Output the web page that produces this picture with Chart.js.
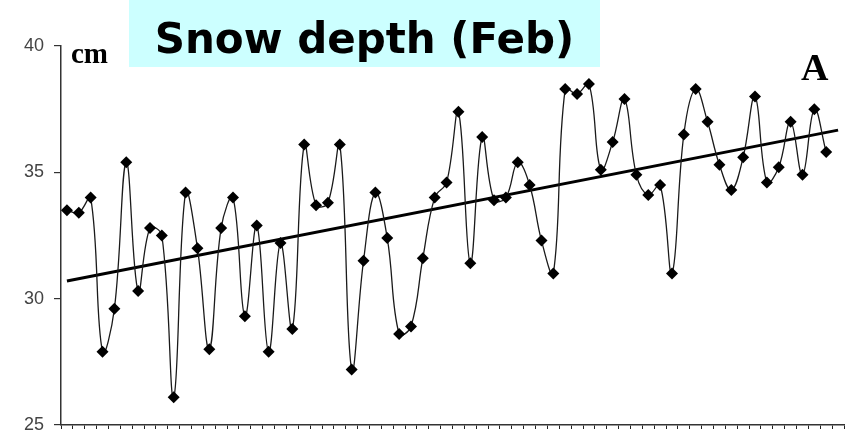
<!DOCTYPE html>
<html>
<head>
<meta charset="utf-8">
<script src="https://cdn.jsdelivr.net/npm/chart.js@4.4.0/dist/chart.umd.min.js"></script>
<style>
  html, body { margin: 0; padding: 0; background: #fff; }
  #wrap { position: relative; width: 850px; height: 431px; overflow: hidden; }
  #chart { position: absolute; left: 0; top: 0; }
  .title-box { position: absolute; left: 129px; top: 0; width: 471px; height: 67px; background: #ccffff; }
  .title-box span { position: absolute; left: 0; right: 0; top: 14px; text-align: center; line-height: 1;
    font: bold 42px "DejaVu Sans", sans-serif; color: #000; white-space: nowrap; }
  .unit { position: absolute; left: 71px; top: 37px; line-height: 1; font: bold 29px "Liberation Serif", serif; color: #000; }
  .panel { position: absolute; left: 801px; top: 45px; line-height: 1; font: bold 38px "Liberation Serif", serif; color: #000; }
</style>
</head>
<body>
<div id="wrap">
  <canvas id="chart" width="850" height="431"></canvas>
  <div class="title-box"><span>Snow depth (Feb)</span></div>
  <div class="unit">cm</div>
  <div class="panel">A</div>
</div>
<script>
// 66 year slots on the x axis, 65 observed values
const years = [];
for (let i = 1; i <= 66; i++) years.push(String(i));

const snowDepth = [
  33.5, 33.4, 34.0, 27.9, 29.6, 35.4, 30.3, 32.8, 32.5, 26.1,
  34.2, 32.0, 28.0, 32.8, 34.0, 29.3, 32.9, 27.9, 32.2, 28.8,
  36.1, 33.7, 33.8, 36.1, 27.2, 31.5, 34.2, 32.4, 28.6, 28.9,
  31.6, 34.0, 34.6, 37.4, 31.4, 36.4, 33.9, 34.0, 35.4, 34.5,
  32.3, 31.0, 38.3, 38.1, 38.5, 35.1, 36.2, 37.9, 34.9, 34.1,
  34.5, 31.0, 36.5, 38.3, 37.0, 35.3, 34.3, 35.6, 38.0, 34.6,
  35.2, 37.0, 34.9, 37.5, 35.8
];

// linear trend, read at its two ends
const trendYears = ['1', '66'];
const trendValues = [30.7, 36.67];

const yTicks = [25, 30, 35, 40];

new Chart(document.getElementById('chart').getContext('2d'), {
  type: 'line',
  data: {
    labels: years,
    datasets: [
      {
        label: 'Snow depth',
        data: snowDepth,
        borderColor: '#1a1a1a',
        borderWidth: 1.3,
        tension: 0.4,
        pointStyle: 'rectRot',
        pointRadius: 6,
        pointBackgroundColor: '#000',
        pointBorderColor: '#000',
        pointBorderWidth: 0,
        order: 1
      },
      {
        label: 'Trend',
        data: trendYears.map((x, i) => ({ x: x, y: trendValues[i] })),
        borderColor: '#000',
        borderWidth: 3,
        pointRadius: 0,
        tension: 0,
        order: 2
      }
    ]
  },
  options: {
    responsive: false,
    animation: false,
    layout: { padding: { top: 46, right: 3, left: 0, bottom: 0 } },
    plugins: { legend: { display: false }, tooltip: { enabled: false } },
    scales: {
      x: {
        type: 'category',
        offset: true,
        grid: { offset: true, drawOnChartArea: false, drawTicks: true, tickLength: 4, color: '#222', lineWidth: 1 },
        border: { color: '#333', width: 1.5 },
        ticks: { display: false },
        afterFit: s => { s.height = 4; s.paddingLeft = 0; s.paddingRight = 0; }
      },
      y: {
        min: 25,
        max: 40,
        afterBuildTicks: s => { s.ticks = yTicks.map(v => ({ value: v })); },
        grid: { drawOnChartArea: false, tickLength: 7, color: '#333', lineWidth: 1.2 },
        border: { color: '#333', width: 1.5 },
        ticks: { padding: 10, color: '#444', font: { family: 'Liberation Sans', size: 18 } },
        afterFit: s => { s.width = 61; s.paddingTop = 0; s.paddingBottom = 0; }
      }
    }
  }
});
</script>
</body>
</html>
